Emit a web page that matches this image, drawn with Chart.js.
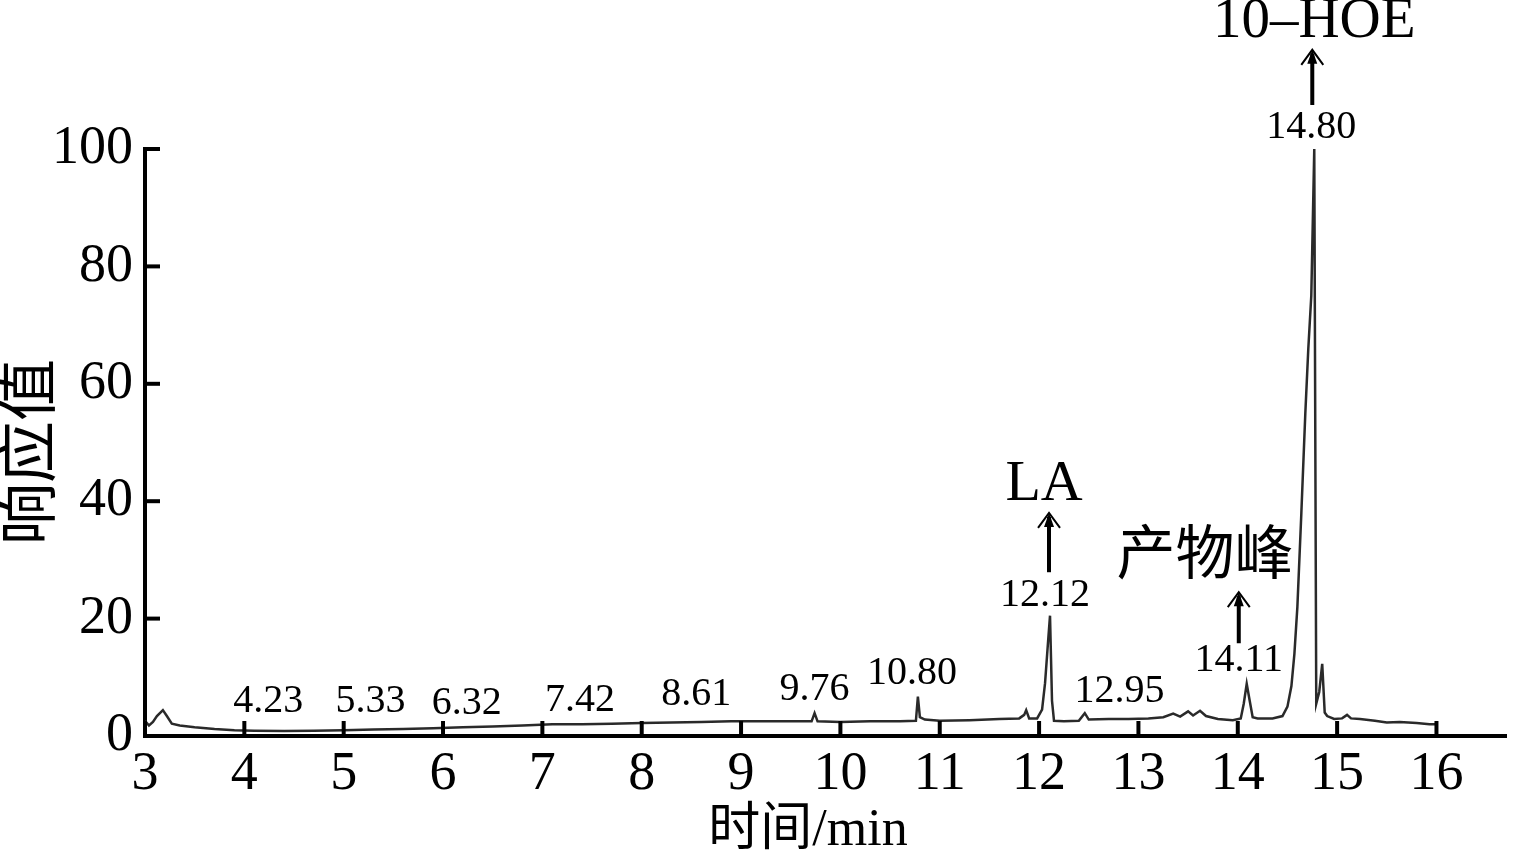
<!DOCTYPE html>
<html>
<head>
<meta charset="utf-8">
<script src="https://cdn.jsdelivr.net/npm/chart.js@4.4.0/dist/chart.umd.min.js"></script>
<style>
  html, body { margin: 0; padding: 0; background: #fff; }
  canvas { display: block; }
</style>
</head>
<body>
<canvas id="chromChart" width="1518" height="858"></canvas>
<script>
// Chromatogram trace (retention time in min, response)
const times = [
  3.00, 3.04, 3.08, 3.12, 3.18, 3.22, 3.27, 3.35, 3.50, 3.70, 3.90, 4.10, 4.40, 4.70,
  5.00, 5.30, 5.60, 5.90, 6.20, 6.50, 6.80, 7.10, 7.40, 7.70, 8.00, 8.30, 8.60, 8.90,
  9.20, 9.50, 9.71, 9.74, 9.77, 10.00, 10.30, 10.60, 10.76, 10.78, 10.80, 10.85, 11.00,
  11.30, 11.60, 11.80, 11.85, 11.87, 11.90, 11.98, 12.03, 12.06, 12.09, 12.11, 12.13,
  12.15, 12.25, 12.40, 12.46, 12.50, 12.70, 12.90, 13.10, 13.25, 13.35, 13.42, 13.50,
  13.55, 13.62, 13.68, 13.80, 13.95, 14.03, 14.06, 14.09, 14.12, 14.15, 14.20, 14.35,
  14.45, 14.50, 14.54, 14.57, 14.60, 14.64, 14.68, 14.71, 14.74, 14.77, 14.79, 14.82,
  14.85, 14.875, 14.90, 14.97, 15.05, 15.10, 15.14, 15.23, 15.38, 15.50, 15.63, 15.80,
  15.93, 16.00
];
const response = [
  2.6, 1.8, 2.4, 3.4, 4.4, 3.4, 2.1, 1.8, 1.5, 1.2, 1.0, 0.9, 0.85, 0.9,
  1.0, 1.1, 1.2, 1.3, 1.5, 1.6, 1.8, 2.0, 2.0, 2.1, 2.2, 2.3, 2.4, 2.5,
  2.5, 2.5, 2.5, 3.9, 2.5, 2.4, 2.5, 2.5, 2.6, 6.7, 3.2, 2.8, 2.6,
  2.7, 2.9, 3.0, 3.6, 4.4, 3.0, 3.0, 4.5, 9.0, 16.0, 20.5, 6.0,
  2.6, 2.5, 2.6, 3.9, 2.8, 2.9, 2.9, 3.0, 3.2, 3.8, 3.3, 4.2,
  3.5, 4.3, 3.4, 2.9, 2.7, 3.0, 5.5, 8.9, 6.0, 3.2, 3.0, 3.0,
  3.4, 5.0, 8.5, 14.0, 22.0, 38.0, 55.0, 66.0, 75.0, 100.0, 5.5, 7.5,
  12.3, 4.0, 3.4, 2.9, 3.0, 3.6, 3.0, 2.9, 2.6, 2.3, 2.4, 2.2,
  2.0, 2.0
];

const xTicks = [3, 4, 5, 6, 7, 8, 9, 10, 11, 12, 13, 14, 15, 16];
const yTicks = [0, 20, 40, 60, 80, 100];

const serif = "'Liberation Serif', 'Times New Roman', serif";
const cjkSerif = "'Liberation Serif', 'Noto Sans CJK SC', serif";

// peak annotations, placed in data units
const annotations = [
  { text: '4.23', t: 4.24, v: 5.8, size: 40 },
  { text: '5.33', t: 5.27, v: 5.8, size: 40 },
  { text: '6.32', t: 6.24, v: 5.5, size: 40 },
  { text: '7.42', t: 7.38, v: 6.1, size: 40 },
  { text: '8.61', t: 8.55, v: 7.0, size: 40 },
  { text: '9.76', t: 9.74, v: 8.0, size: 40 },
  { text: '10.80', t: 10.72, v: 10.6, size: 40 },
  { text: '12.12', t: 12.06, v: 23.9, size: 40 },
  { text: '12.95', t: 12.81, v: 7.5, size: 40 },
  { text: '14.11', t: 14.01, v: 12.8, size: 40 },
  { text: '14.80', t: 14.74, v: 103.7, size: 40 },
  { text: 'LA', t: 12.05, v: 42.8, size: 58 },
  { text: '产物峰', t: 13.67, v: 30.3, size: 59 },
  { text: '10–HOE', t: 14.77, v: 121.6, size: 57 }
];
const arrows = [
  { t: 12.10, from: 27.9, to: 38.0 },
  { t: 14.01, from: 15.8, to: 24.5 },
  { t: 14.75, from: 107.5, to: 116.9 }
];

const chromPlugin = {
  id: 'chromDecor',
  afterDraw(chart) {
    const ctx = chart.ctx;
    const xs = chart.scales.x;
    const ys = chart.scales.y;
    const area = chart.chartArea;
    ctx.save();
    ctx.strokeStyle = '#000';
    ctx.fillStyle = '#000';

    // inward ticks
    ctx.lineWidth = 4;
    xTicks.forEach(v => {
      const px = xs.getPixelForValue(v);
      ctx.beginPath();
      ctx.moveTo(px, area.bottom);
      ctx.lineTo(px, area.bottom - 15);
      ctx.stroke();
    });
    yTicks.forEach(v => {
      const py = ys.getPixelForValue(v);
      ctx.beginPath();
      ctx.moveTo(area.left, py);
      ctx.lineTo(area.left + 15, py);
      ctx.stroke();
    });

    // labels
    ctx.textAlign = 'center';
    ctx.textBaseline = 'middle';
    annotations.forEach(a => {
      ctx.font = a.size + 'px ' + cjkSerif;
      ctx.fillText(a.text, xs.getPixelForValue(a.t), ys.getPixelForValue(a.v));
    });

    // arrows
    arrows.forEach(a => {
      const px = xs.getPixelForValue(a.t);
      const y0 = ys.getPixelForValue(a.from);
      const y1 = ys.getPixelForValue(a.to);
      ctx.lineWidth = 4;
      ctx.beginPath();
      ctx.moveTo(px, y0);
      ctx.lineTo(px, y1 + 4);
      ctx.stroke();
      ctx.beginPath();
      ctx.moveTo(px, y1);
      ctx.lineTo(px - 5, y1 + 14);
      ctx.lineTo(px + 5, y1 + 14);
      ctx.closePath();
      ctx.fill();
      ctx.lineWidth = 2;
      ctx.beginPath();
      ctx.moveTo(px - 11, y1 + 15);
      ctx.lineTo(px, y1);
      ctx.lineTo(px + 11, y1 + 15);
      ctx.stroke();
    });

    // axis titles
    ctx.font = '52px ' + cjkSerif;
    ctx.fillText('时间/min', 808, 831);
    ctx.save();
    ctx.translate(34, 452);
    ctx.rotate(-Math.PI / 2);
    ctx.font = '62px ' + cjkSerif;
    ctx.fillText('响应值', 0, 0);
    ctx.restore();

    ctx.restore();
  }
};

new Chart(document.getElementById('chromChart'), {
  type: 'line',
  data: {
    datasets: [{
      data: times.map((t, i) => ({ x: t, y: response[i] })),
      borderColor: '#2a2a2a',
      borderWidth: 2.5,
      pointRadius: 0,
      tension: 0,
      fill: false
    }]
  },
  options: {
    responsive: false,
    animation: false,
    devicePixelRatio: 1,
    layout: { padding: { top: 149, right: 12, left: 0, bottom: 0 } },
    plugins: {
      legend: { display: false },
      tooltip: { enabled: false }
    },
    scales: {
      x: {
        type: 'linear',
        min: 3,
        max: 16.7,
        afterBuildTicks: s => { s.ticks = xTicks.map(v => ({ value: v })); },
        afterFit: s => { s.height = 122; },
        grid: { display: false, drawTicks: false },
        border: { display: true, color: '#000', width: 4 },
        ticks: {
          color: '#000',
          padding: 6,
          maxRotation: 0,
          autoSkip: false,
          font: { family: serif, size: 54 }
        }
      },
      y: {
        min: 0,
        max: 100,
        afterBuildTicks: s => { s.ticks = yTicks.map(v => ({ value: v })); },
        afterFit: s => { s.width = 145; },
        grid: { display: false, drawTicks: false },
        border: { display: true, color: '#000', width: 4 },
        ticks: {
          color: '#000',
          padding: 12,
          font: { family: serif, size: 54 }
        }
      }
    }
  },
  plugins: [chromPlugin]
});
</script>
</body>
</html>
